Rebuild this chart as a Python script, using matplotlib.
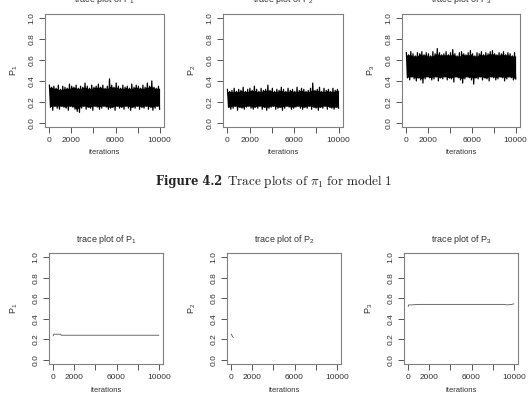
import numpy as np
import matplotlib
matplotlib.use("Agg")
import matplotlib.pyplot as plt

plt.rcParams['font.family'] = ['Liberation Sans', 'DejaVu Sans']

# ---- data ----
n_iter = 10000
# upper / lower swings of the dense MCMC traces (model 1), alternating
p1_hi = [0.36,0.34,0.35,0.33,0.36,0.32,0.35,0.34,0.33,0.37,0.35,0.34,0.36,0.33,0.35,0.34,0.38,0.35,0.33,0.36,
         0.34,0.35,0.37,0.34,0.36,0.33,0.35,0.42,0.36,0.34,0.38,0.35,0.33,0.36,0.34,0.35,0.33,0.37,0.34,0.36,
         0.35,0.33,0.36,0.34,0.38,0.35,0.40,0.34,0.33,0.35]
p1_lo = [0.15,0.12,0.16,0.14,0.13,0.16,0.15,0.14,0.12,0.16,0.15,0.13,0.11,0.10,0.14,0.16,0.13,0.15,0.14,0.12,
         0.16,0.15,0.13,0.14,0.16,0.15,0.13,0.14,0.15,0.12,0.16,0.14,0.15,0.13,0.16,0.14,0.12,0.15,0.14,0.16,
         0.13,0.15,0.14,0.16,0.13,0.15,0.12,0.14,0.16,0.13]
p2_hi = [0.32,0.30,0.31,0.33,0.30,0.32,0.31,0.34,0.30,0.32,0.33,0.31,0.35,0.32,0.30,0.33,0.31,0.32,0.36,0.31,
         0.33,0.30,0.32,0.31,0.34,0.32,0.30,0.33,0.31,0.32,0.30,0.34,0.31,0.33,0.32,0.30,0.31,0.33,0.38,0.31,
         0.32,0.34,0.30,0.33,0.31,0.32,0.30,0.33,0.31,0.32]
p2_lo = [0.15,0.13,0.14,0.16,0.12,0.15,0.14,0.13,0.15,0.16,0.14,0.13,0.15,0.14,0.16,0.13,0.15,0.12,0.14,0.15,
         0.16,0.13,0.14,0.15,0.12,0.14,0.16,0.15,0.13,0.14,0.15,0.16,0.14,0.13,0.15,0.14,0.16,0.13,0.15,0.14,
         0.12,0.15,0.14,0.16,0.13,0.15,0.14,0.13,0.15,0.14]
p3_hi = [0.67,0.65,0.68,0.66,0.64,0.67,0.66,0.68,0.65,0.67,0.66,0.64,0.68,0.66,0.71,0.67,0.65,0.66,0.68,0.65,
         0.67,0.70,0.66,0.64,0.67,0.68,0.66,0.65,0.67,0.69,0.66,0.64,0.67,0.66,0.68,0.65,0.67,0.66,0.68,0.69,
         0.66,0.65,0.67,0.66,0.68,0.65,0.67,0.66,0.64,0.67]
p3_lo = [0.43,0.41,0.44,0.42,0.40,0.43,0.41,0.38,0.42,0.44,0.43,0.41,0.42,0.44,0.40,0.43,0.42,0.44,0.41,0.43,
         0.42,0.39,0.44,0.43,0.41,0.38,0.42,0.44,0.43,0.41,0.37,0.43,0.42,0.44,0.41,0.43,0.42,0.40,0.44,0.43,
         0.41,0.42,0.44,0.43,0.40,0.42,0.44,0.43,0.41,0.42]

# sparse traces (second model)
q1_iter = [1, 40, 700, 750, 10000]
q1_val = [0.235, 0.25, 0.25, 0.24, 0.24]
q2_iter = [1, 60, 120, 200]
q2_val = [0.25, 0.24, 0.225, 0.22]
q3_iter = [1, 40, 300, 1000, 2500, 9000, 9400, 9800, 10000]
q3_val = [0.52, 0.535, 0.535, 0.54, 0.54, 0.54, 0.535, 0.54, 0.545]

titles = ["trace plot of $\\mathregular{P_1}$", "trace plot of $\\mathregular{P_2}$", "trace plot of $\\mathregular{P_3}$"]
ylabels = ["$\\mathregular{P_1}$", "$\\mathregular{P_2}$", "$\\mathregular{P_3}$"]
xticks = [0, 2000, 4000, 6000, 8000, 10000]
xticklabels = ["0", "2000", "", "6000", "", "10000"]
yticks = [0.0, 0.2, 0.4, 0.6, 0.8, 1.0]
yticklabels = ["0.0", "0.2", "0.4", "0.6", "0.8", "1.0"]
caption_head = "Figure 4.2"
caption_body = r"$\mathrm{Trace\ plots\ of}\ \pi_1\ \mathrm{for\ model\ 1}$"

W, H = 529, 395
fig = plt.figure(figsize=(W / 100, H / 100), dpi=100)

top_boxes = [(45, 164, 14, 127), (223, 343, 14, 127), (402, 520, 14, 127)]
bot_boxes = [(49, 163, 253, 364), (227, 341, 253, 364), (404, 518, 253, 364)]

AX_COL = "#808080"
TXT_COL = "#333333"


def make_ax(box, i):
    x0, x1, y0, y1 = box
    ax = fig.add_axes([x0 / W, 1 - y1 / H, (x1 - x0) / W, (y1 - y0) / H])
    ax.set_xlim(-400, 10400)
    ax.set_ylim(-0.04, 1.04)
    for s in ax.spines.values():
        s.set_color(AX_COL)
        s.set_linewidth(0.8)
    ax.set_xticks(xticks)
    ax.set_xticklabels(xticklabels)
    ax.set_yticks(yticks)
    ax.set_yticklabels(yticklabels, rotation=90, va='center')
    ax.tick_params(direction='out', length=4, width=0.7, color="#555555",
                   labelsize=6, labelcolor=TXT_COL, pad=3)
    hpx = y1 - y0
    wpx = x1 - x0
    ax.text(0.5, 1 + 14 / hpx, titles[i], transform=ax.transAxes, ha='center',
            va='center', fontsize=6.5, color=TXT_COL)
    ax.text(0.5, -26 / hpx, "iterations", transform=ax.transAxes, ha='center',
            va='center', fontsize=5.5, color=TXT_COL)
    ax.text(-(35 if y0 > 100 else 31) / wpx, 0.5, ylabels[i], transform=ax.transAxes,
            ha='center', va='center', rotation=90, fontsize=6.5, color=TXT_COL)
    return ax


his = [p1_hi, p2_hi, p3_hi]
los = [p1_lo, p2_lo, p3_lo]
for i, box in enumerate(top_boxes):
    ax = make_ax(box, i)
    hi = np.asarray(his[i])
    lo = np.asarray(los[i])
    trace = np.ravel(np.column_stack([hi, lo]))
    it = np.linspace(1, n_iter, len(trace))
    # dense core of the trace: where neighbouring swings overlap
    hi_pad = np.concatenate([[hi[0]], hi, [hi[-1]]])
    lo_pad = np.concatenate([[lo[0]], lo, [lo[-1]]])
    core_hi = np.min(np.vstack([hi_pad[:-2], hi_pad[1:-1], hi_pad[2:]]), axis=0)
    core_lo = np.max(np.vstack([lo_pad[:-2], lo_pad[1:-1], lo_pad[2:]]), axis=0)
    it_core = np.linspace(1, n_iter, len(hi))
    ax.fill_between(it_core, core_lo, core_hi, color='black', lw=0)
    ax.plot(it, trace, color='black', lw=0.9)

sparse = [(q1_iter, q1_val), (q2_iter, q2_val), (q3_iter, q3_val)]
for i, box in enumerate(bot_boxes):
    ax = make_ax(box, i)
    ax.plot(sparse[i][0], sparse[i][1], color='#555555', lw=0.6)

cap_y = 1 - 185 / H
t1 = fig.text(156 / W, cap_y, caption_head, ha='left', va='baseline', fontsize=8.3,
              family='DejaVu Serif', weight='bold', color='#222222')
fig.canvas.draw()
bb = t1.get_window_extent()
fig.text((bb.x1 + 5) / W, cap_y, caption_body, ha='left', va='baseline', fontsize=9.5,
         math_fontfamily='cm', color='#222222')

fig.savefig("out.png", dpi=100)
